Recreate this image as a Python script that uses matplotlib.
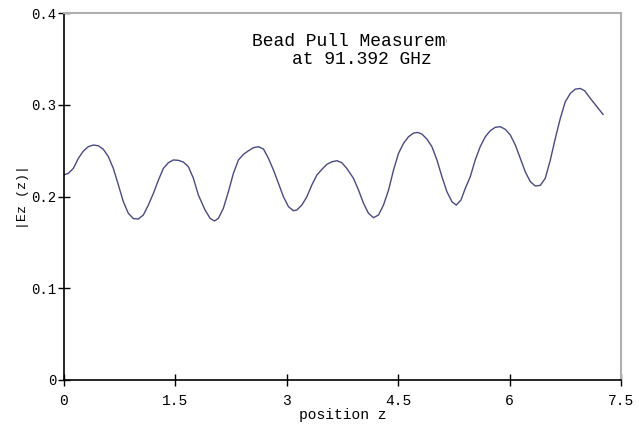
"""
bead_pull.py
Bead pull field profile |Ez(z)| at 91.392 GHz.
Outputs: out.png
"""
import matplotlib.pyplot as plt
from matplotlib.patches import Rectangle

position = [0.000, 0.065, 0.132, 0.200, 0.267, 0.334, 0.400, 0.468, 0.536,
            0.603, 0.670, 0.738, 0.805, 0.872, 0.940, 1.007, 1.074, 1.141,
            1.209, 1.276, 1.343, 1.410, 1.478, 1.545, 1.612, 1.680, 1.747,
            1.814, 1.904, 1.972, 2.030, 2.083, 2.150, 2.218, 2.285, 2.353,
            2.420, 2.487, 2.555, 2.622, 2.690, 2.756, 2.824, 2.891, 2.958,
            3.026, 3.093, 3.138, 3.206, 3.273, 3.340, 3.408, 3.475, 3.542,
            3.610, 3.677, 3.744, 3.810, 3.900, 3.968, 4.035, 4.102, 4.170,
            4.237, 4.304, 4.372, 4.439, 4.506, 4.573, 4.640, 4.708, 4.762,
            4.820, 4.888, 4.955, 5.023, 5.090, 5.157, 5.225, 5.283, 5.346,
            5.404, 5.471, 5.538, 5.605, 5.673, 5.740, 5.807, 5.875, 5.942,
            6.010, 6.077, 6.144, 6.210, 6.279, 6.346, 6.413, 6.480, 6.548,
            6.615, 6.682, 6.749, 6.817, 6.884, 6.951, 7.010, 7.086, 7.176,
            7.257]
ez = [0.2236, 0.2254, 0.2308, 0.2418, 0.2497, 0.2545, 0.2563, 0.2555, 0.2516,
      0.2436, 0.2308, 0.2127, 0.1944, 0.1818, 0.1760, 0.1756, 0.1800, 0.1908,
      0.2036, 0.2180, 0.2308, 0.2370, 0.2400, 0.2396, 0.2377, 0.2326, 0.2200,
      0.2017, 0.1854, 0.1763, 0.1734, 0.1763, 0.1872, 0.2054, 0.2254, 0.2400,
      0.2461, 0.2500, 0.2534, 0.2545, 0.2519, 0.2418, 0.2290, 0.2145, 0.1999,
      0.1890, 0.1846, 0.1854, 0.1908, 0.1999, 0.2127, 0.2236, 0.2297, 0.2352,
      0.2380, 0.2392, 0.2370, 0.2308, 0.2200, 0.2072, 0.1927, 0.1818, 0.1770,
      0.1800, 0.1908, 0.2072, 0.2290, 0.2472, 0.2581, 0.2653, 0.2693, 0.2700,
      0.2683, 0.2628, 0.2545, 0.2400, 0.2217, 0.2054, 0.1944, 0.1908, 0.1963,
      0.2090, 0.2217, 0.2400, 0.2545, 0.2653, 0.2719, 0.2756, 0.2763, 0.2734,
      0.2672, 0.2563, 0.2418, 0.2272, 0.2163, 0.2116, 0.2123, 0.2200, 0.2400,
      0.2636, 0.2854, 0.3035, 0.3126, 0.3173, 0.3180, 0.3155, 0.3072, 0.2980,
      0.2897]

xticks = [0, 1.5, 3, 4.5, 6, 7.5]
xticklabels = ['0', '1.5', '3', '4.5', '6', '7.5']
yticks = [0, 0.1, 0.2, 0.3, 0.4]
yticklabels = ['0', '0.1', '0.2', '0.3', '0.4']

mono = 'Liberation Mono'

fig = plt.figure(figsize=(6.39, 4.25), dpi=100)
ax = fig.add_axes([0.0994, 0.106, 0.8726, 0.8627])

ax.plot(position, ez, color='#4b4a7e', lw=1.0, solid_joinstyle='round')

ax.set_xlim(0, 7.5)
ax.set_ylim(0, 0.4)
ax.set_xticks(xticks)
ax.set_xticklabels(xticklabels, fontfamily=mono, fontsize=10.5)
ax.set_yticks(yticks)
ax.set_yticklabels(yticklabels, fontfamily=mono, fontsize=10)
ax.tick_params(axis='x', direction='inout', length=8, width=1, pad=6)
ax.tick_params(axis='y', direction='inout', length=8, width=1, pad=1)

ax.set_xlabel('position z', fontfamily=mono, fontsize=10.5, labelpad=0)
ax.set_ylabel('|Ez (z)|', fontfamily=mono, fontsize=9.5, labelpad=2)

for side in ['left', 'bottom']:
    ax.spines[side].set_color('black')
    ax.spines[side].set_linewidth(1.2)
for side in ['top', 'right']:
    ax.spines[side].set_color('#b0b0b0')
    ax.spines[side].set_linewidth(1.5)

# title box, clipped on the right like the original
clip = Rectangle((0, 0), 447 / 639, 1, transform=fig.transFigure, visible=False)
fig.add_artist(clip)
t1 = fig.text(252 / 639, 1 - 41 / 425, 'Bead Pull Measurement', fontfamily=mono,
              fontsize=13, ha='left', va='center')
t1.set_clip_path(clip)
fig.text(292 / 639, 1 - 60 / 425, 'at 91.392 GHz', fontfamily=mono,
         fontsize=13, ha='left', va='center')

fig.savefig('out.png', dpi=100)
plt.close(fig)
